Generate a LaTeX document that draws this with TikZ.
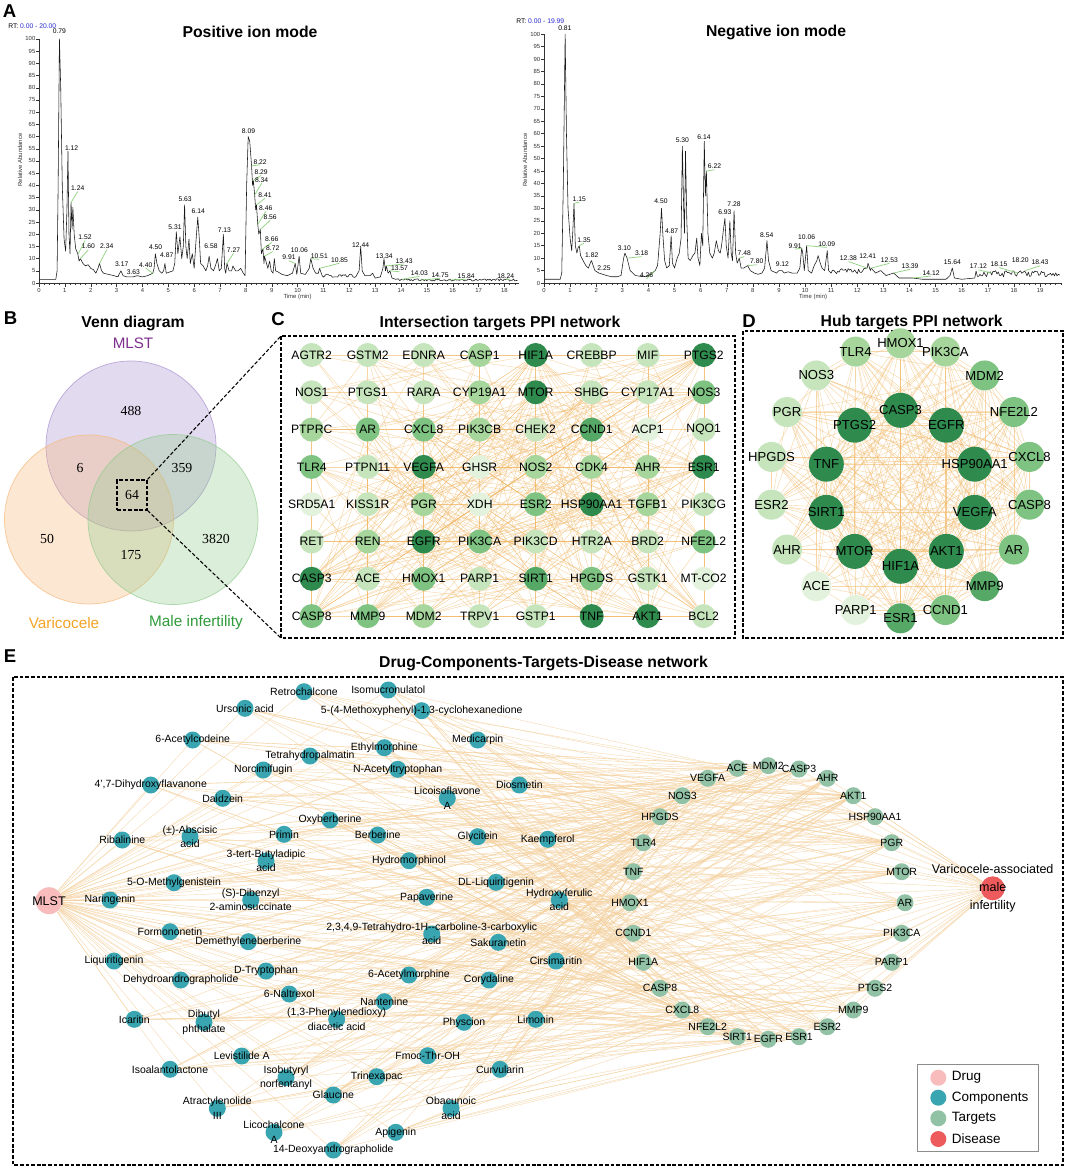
\documentclass[tikz,border=0pt]{standalone}
\usepackage{fontspec}
\setmainfont{Liberation Sans}
\newfontfamily\vennfont{Liberation Serif}
\usetikzlibrary{positioning}

\definecolor{cg0}{HTML}{E3F2DD}
\definecolor{cg1}{HTML}{C6E5BC}
\definecolor{cg2}{HTML}{A6D69C}
\definecolor{cg3}{HTML}{7EC381}
\definecolor{cg4}{HTML}{55A866}
\definecolor{cg5}{HTML}{2F8A4D}
\definecolor{ppiorange}{HTML}{F2BC6E}
\definecolor{netorange}{HTML}{F5D2A0}
\definecolor{compc}{HTML}{39A5B0}
\definecolor{targc}{HTML}{92C2A6}
\definecolor{drugc}{HTML}{F9BCBC}
\definecolor{disc}{HTML}{EE5B5D}
\definecolor{vpur}{HTML}{A68DCF}
\definecolor{vora}{HTML}{F8B676}
\definecolor{vgre}{HTML}{8FCB8B}
\definecolor{tpur}{HTML}{7E2F8E}
\definecolor{tora}{HTML}{F4A427}
\definecolor{tgre}{HTML}{2E9B3A}
\definecolor{pkgreen}{HTML}{8ED27D}
\definecolor{rtblue}{HTML}{2A2ACF}

\newcommand\fsz[2]{\fontsize{#1}{#2}\selectfont}
\newcommand\peaklbl[3]{\node[pklbl] at (#1,#2) {#3};}
\newcommand\peakglbl[5]{\draw[pkline] (#1,#2) -- (#3,#4-1.3); \node[pklbl] at (#3,#4) {#5};}

\pgfdeclarelayer{bg}
\pgfdeclarelayer{edges}
\pgfdeclarelayer{labels}
\pgfsetlayers{bg,edges,main,labels}

\begin{document}
\begin{tikzpicture}[x=0.025cm,y=-0.025cm,
  panel/.style={font=\fsz{13.2}{14}\bfseries,inner sep=0pt},
  ptitle/.style={font=\fsz{11.2}{13}\bfseries,inner sep=0pt},
  boxline/.style={dash pattern=on 2.6pt off 1.4pt,line width=0.75pt},
  trace/.style={line width=0.4pt,black!90,line join=round},
  axisline/.style={line width=0.3pt,black!80},
  ticklbl/.style={font=\fsz{4.2}{5},inner sep=0.6pt,black!80},
  pklbl/.style={font=\fsz{4.8}{5},inner sep=0pt},
  pkline/.style={pkgreen,line width=0.5pt},
  vnum/.style={font=\vennfont\fsz{9.8}{11}},
  cnode/.style={circle,minimum size=0.6cm,inner sep=0pt},
  clbl/.style={font=\fsz{8.65}{9},inner sep=0pt},
  dnode/.style={circle,minimum size=0.75cm,inner sep=0pt},
  hubnode/.style={circle,minimum size=0.875cm,inner sep=0pt,fill=cg5},
  dlbl/.style={font=\fsz{9.3}{10},inner sep=0pt},
  cedge/.style={ppiorange,line width=0.3pt,opacity=0.6},
  compnode/.style={circle,minimum size=0.425cm,inner sep=0pt,fill=compc},
  targnode/.style={circle,minimum size=0.425cm,inner sep=0pt,fill=targc},
  elbl/.style={font=\fsz{7.45}{10.2},inner sep=0pt,align=center},
  eedge/.style={netorange,line width=0.3pt,opacity=0.8},
  lgtxt/.style={font=\fsz{9.6}{11},inner sep=0pt,anchor=west},
]
\useasboundingbox (0,0) rectangle (1065,1168);
\begin{pgfonlayer}{bg}
  \fill[white] (0,0) rectangle (1065,1168);
\end{pgfonlayer}
\pgfmathsetseed{7}

\node[panel] (pA) at (9.5,11.5) {A};
\node[ptitle] (tpos) at (250,32) {Positive ion mode};
\node[ptitle] (tneg) at (776,32) {Negative ion mode};
\node[pklbl,anchor=west] (rtpos) at (8,26) {RT: \textcolor{rtblue}{0.00 - 20.00}};
\node[pklbl,anchor=west] (rtneg) at (516,21) {RT: \textcolor{rtblue}{0.00 - 19.99}};
\node[ticklbl,rotate=90] (yapos) at (20,160) {Relative Abundance};
\node[ticklbl,rotate=90] (yaneg) at (525,160) {Relative Abundance};
\node[ticklbl] (xapos) at (297.5,297) {Time (min)};
\node[ticklbl] (xaneg) at (813,297) {Time (min)};

\begin{scope}[shift={(39,283)},x=0.6463cm,y=0.061cm]
  \draw[axisline] (0,100) -- (0,0) -- (18.55,0);
  \foreach \pv in {0,5,...,100} {
    \draw[axisline] (0,\pv) -- (-0.1,\pv);
    \node[ticklbl,anchor=east] at (-0.1,\pv) {\pv};
  }
  \foreach \tm in {0,...,18} {
    \draw[axisline] (\tm,0) -- (\tm,-1.5);
    \node[ticklbl,anchor=north] at (\tm,-1.6) {\tm};
  }
  \foreach \tm in {0.2,0.4,...,18.4} \draw[axisline] (\tm,0) -- (\tm,-0.8);
  \draw[trace] (0,1.5) -- (0.65,1.5) -- (0.7,5) -- (0.74,40) -- (0.79,100) -- (0.84,80) -- (0.9,40) -- (0.97,18) -- (1.03,13) -- (1.08,30) -- (1.12,54) -- (1.16,20) -- (1.2,12) -- (1.24,33) -- (1.28,22) -- (1.31,31) -- (1.36,20) -- (1.42,14) -- (1.5,12) -- (1.55,9) -- (1.6,10) -- (1.7,8) -- (1.8,7) -- (1.9,7.5) -- (2.0,6) -- (2.1,5.5) -- (2.2,4) -- (2.28,6) -- (2.34,8) -- (2.42,5) -- (2.5,4) -- (2.7,3.5) -- (2.9,3) -- (3.05,2.5) -- (3.12,4) -- (3.17,5) -- (3.25,3) -- (3.4,2.5) -- (3.63,2.5) -- (3.8,3) -- (4.0,2.5) -- (4.2,3) -- (4.4,4) -- (4.45,6) -- (4.5,12) -- (4.56,8) -- (4.65,5) -- (4.75,4) -- (4.82,5) -- (4.87,8) -- (4.92,4) -- (5.05,4.5) -- (5.18,5) -- (5.25,8) -- (5.31,21) -- (5.37,12) -- (5.45,19) -- (5.52,10) -- (5.58,15) -- (5.63,32) -- (5.68,15) -- (5.73,10) -- (5.8,18) -- (5.85,8) -- (5.93,12) -- (6.0,6) -- (6.07,17) -- (6.14,27) -- (6.2,18) -- (6.25,8) -- (6.35,7) -- (6.45,5) -- (6.52,7) -- (6.58,11) -- (6.65,6) -- (6.75,5) -- (6.85,8) -- (6.9,10) -- (6.97,5) -- (7.05,6) -- (7.13,20) -- (7.18,6) -- (7.22,4) -- (7.27,8) -- (7.35,5) -- (7.45,5) -- (7.5,7) -- (7.6,5) -- (7.7,5) -- (7.8,6) -- (7.9,4) -- (7.97,3) -- (8.03,40) -- (8.09,60) -- (8.15,58) -- (8.22,48) -- (8.26,40) -- (8.29,42) -- (8.34,36) -- (8.38,30) -- (8.41,32) -- (8.46,24) -- (8.5,20) -- (8.56,22) -- (8.6,12) -- (8.66,14) -- (8.7,8) -- (8.72,11) -- (8.8,8) -- (8.85,6) -- (8.92,9) -- (8.98,5) -- (9.05,4) -- (9.1,10) -- (9.15,5) -- (9.25,4.5) -- (9.4,3.5) -- (9.6,3) -- (9.8,4) -- (9.91,8) -- (9.97,3.5) -- (10.06,11) -- (10.12,4) -- (10.3,3.5) -- (10.45,6) -- (10.51,10) -- (10.6,6) -- (10.7,4) -- (10.8,4) -- (10.85,6) -- (10.95,3)
    \foreach \tm in {11.0,11.05,...,12.3} { -- (\tm,{2.2+1.5*rnd}) }
    -- (12.38,5) -- (12.44,15) -- (12.5,5) -- (12.6,3) -- (12.8,3) -- (12.9,4) -- (13.0,2) -- (13.2,2.5) -- (13.3,6) -- (13.34,10) -- (13.4,5) -- (13.43,7) -- (13.5,4) -- (13.57,5) -- (13.65,2) -- (13.8,1.5)
    \foreach \tm in {13.85,13.9,...,18.5} { -- (\tm,{0.8+0.9*rnd}) };
  \peaklbl{0.79}{103}{0.79}
  \peaklbl{1.26}{55.2}{1.12}
  \peakglbl{1.24}{33}{1.5}{38.8}{1.24}
  \peakglbl{1.52}{12}{1.78}{18.7}{1.52}
  \peakglbl{1.6}{10}{1.91}{14.9}{1.60}
  \peakglbl{2.34}{8}{2.62}{14.9}{2.34}
  \peaklbl{3.2}{7.8}{3.17}
  \peaklbl{3.65}{4.6}{3.63}
  \peakglbl{4.4}{4}{4.13}{7.4}{4.40}
  \peaklbl{4.51}{14.5}{4.50}
  \peaklbl{4.94}{11.5}{4.87}
  \peaklbl{5.26}{22.7}{5.31}
  \peaklbl{5.65}{34.3}{5.63}
  \peaklbl{6.16}{29.6}{6.14}
  \peaklbl{6.65}{14.9}{6.58}
  \peaklbl{7.17}{21.7}{7.13}
  \peakglbl{7.27}{8}{7.52}{13.5}{7.27}
  \peaklbl{8.1}{62.3}{8.09}
  \peakglbl{8.22}{48}{8.55}{49.7}{8.22}
  \peakglbl{8.29}{42}{8.59}{45.4}{8.29}
  \peakglbl{8.34}{36}{8.61}{42.2}{8.34}
  \peakglbl{8.41}{32}{8.74}{36}{8.41}
  \peakglbl{8.46}{24}{8.77}{30.6}{8.46}
  \peakglbl{8.56}{22}{8.94}{27}{8.56}
  \peakglbl{8.66}{14}{9.0}{17.9}{8.66}
  \peakglbl{8.72}{11}{9.04}{14.2}{8.72}
  \peakglbl{9.91}{8}{9.67}{10.4}{9.91}
  \peaklbl{10.07}{13.5}{10.06}
  \peakglbl{10.51}{10}{10.84}{11}{10.51}
  \peakglbl{10.85}{6}{11.62}{9.4}{10.85}
  \peaklbl{12.44}{15.6}{12.44}
  \peaklbl{13.35}{10.8}{13.34}
  \peakglbl{13.43}{7}{14.12}{9.1}{13.43}
  \peakglbl{13.57}{5}{13.94}{5.9}{13.57}
  \peakglbl{14.03}{1.5}{14.71}{4}{14.03}
  \peakglbl{14.75}{1.2}{15.51}{3.2}{14.75}
  \peakglbl{15.84}{1.2}{16.52}{2.9}{15.84}
  \peakglbl{18.24}{1.2}{18.05}{2.9}{18.24}
\end{scope}

\begin{scope}[shift={(544,283)},x=0.6525cm,y=0.0622cm]
  \draw[axisline] (0,100) -- (0,0) -- (19.85,0);
  \foreach \pv in {0,5,...,100} {
    \draw[axisline] (0,\pv) -- (-0.1,\pv);
    \node[ticklbl,anchor=east] at (-0.1,\pv) {\pv};
  }
  \foreach \tm in {0,...,19} {
    \draw[axisline] (\tm,0) -- (\tm,-1.5);
    \node[ticklbl,anchor=north] at (\tm,-1.6) {\tm};
  }
  \foreach \tm in {0.2,0.4,...,19.8} \draw[axisline] (\tm,0) -- (\tm,-0.8);
  \draw[trace] (0,1.5) -- (0.62,1.5) -- (0.68,4) -- (0.74,40) -- (0.81,100) -- (0.86,60) -- (0.92,30) -- (1.0,18) -- (1.06,13) -- (1.1,20) -- (1.15,32) -- (1.2,15) -- (1.26,12) -- (1.3,14) -- (1.35,15) -- (1.4,11) -- (1.5,9) -- (1.6,7) -- (1.7,6) -- (1.77,8) -- (1.82,9) -- (1.88,7) -- (1.95,5) -- (2.1,4) -- (2.25,3.5) -- (2.4,3) -- (2.6,2.5) -- (2.8,2.5) -- (2.95,3) -- (3.05,10) -- (3.1,12) -- (3.18,10) -- (3.3,5) -- (3.5,3) -- (3.8,2.5) -- (4.0,3) -- (4.15,4) -- (4.26,5) -- (4.35,7) -- (4.45,20) -- (4.5,30) -- (4.55,20) -- (4.62,9) -- (4.7,6) -- (4.8,7) -- (4.87,19) -- (4.92,8) -- (5.0,6) -- (5.1,10) -- (5.18,12) -- (5.25,18) -- (5.3,55) -- (5.35,30) -- (5.38,20) -- (5.42,53) -- (5.47,25) -- (5.52,10) -- (5.6,9) -- (5.7,11) -- (5.78,12) -- (5.85,18) -- (5.9,10) -- (5.97,7) -- (6.03,20) -- (6.08,15) -- (6.14,57) -- (6.18,35) -- (6.22,45) -- (6.28,20) -- (6.35,12) -- (6.45,10) -- (6.52,12) -- (6.6,17) -- (6.68,13) -- (6.75,12) -- (6.8,15) -- (6.88,22) -- (6.93,26) -- (6.98,15) -- (7.05,10) -- (7.12,25) -- (7.17,12) -- (7.22,9) -- (7.28,29) -- (7.34,12) -- (7.4,8) -- (7.48,10) -- (7.55,6) -- (7.65,6) -- (7.8,7) -- (7.9,5) -- (8.05,4) -- (8.2,3.5) -- (8.35,4) -- (8.45,6) -- (8.54,17) -- (8.6,9) -- (8.7,5) -- (8.9,4) -- (9.0,5) -- (9.12,5) -- (9.2,4) -- (9.35,4.5) -- (9.5,4) -- (9.7,4) -- (9.8,6) -- (9.87,14) -- (9.91,12) -- (9.97,5) -- (10.06,15) -- (10.12,5) -- (10.25,4) -- (10.35,7) -- (10.45,9) -- (10.5,11) -- (10.58,8) -- (10.65,6) -- (10.75,5) -- (10.85,13) -- (10.9,5) -- (11.0,4)
    \foreach \tm in {11.05,11.1,...,12.3} { -- (\tm,{3.5+2.5*rnd}) }
    -- (12.38,6) -- (12.41,8) -- (12.5,5) -- (12.53,6) -- (12.7,4) -- (12.9,5) -- (13.1,3) -- (13.39,4) -- (13.6,2) -- (14.12,2) -- (14.5,1.5) -- (15.4,1.5) -- (15.55,3) -- (15.64,6) -- (15.72,2) -- (16.0,1.5) -- (16.5,2)
    \foreach \tm in {16.55,16.6,...,19.8} { -- (\tm,{2.5+2.5*rnd}) };
  \peaklbl{0.8}{102.5}{0.81}
  \peakglbl{1.15}{32}{1.35}{33.8}{1.15}
  \peakglbl{1.35}{15}{1.53}{17.3}{1.35}
  \peaklbl{1.83}{11.3}{1.82}
  \peaklbl{2.3}{5.9}{2.25}
  \peaklbl{3.08}{14}{3.10}
  \peakglbl{3.18}{10}{3.74}{11.9}{3.18}
  \peakglbl{4.26}{5}{3.93}{3}{4.26}
  \peaklbl{4.48}{32.7}{4.50}
  \peaklbl{4.89}{21}{4.87}
  \peaklbl{5.3}{57.5}{5.30}
  \peaklbl{6.13}{58.8}{6.14}
  \peakglbl{6.22}{45}{6.53}{46.8}{6.22}
  \peaklbl{6.93}{28.4}{6.93}
  \peaklbl{7.28}{31.8}{7.28}
  \peakglbl{7.48}{10}{7.67}{11.9}{7.48}
  \peakglbl{7.8}{7}{8.15}{8.6}{7.80}
  \peaklbl{8.53}{19.3}{8.54}
  \peaklbl{9.13}{7.6}{9.12}
  \peakglbl{9.87}{14}{9.62}{14.9}{9.91}
  \peaklbl{10.06}{18.4}{10.06}
  \peakglbl{10.06}{15}{10.83}{15.6}{10.09}
  \peakglbl{12.38}{6}{11.66}{9.9}{12.38}
  \peaklbl{12.4}{10.9}{12.41}
  \peakglbl{12.53}{6}{13.23}{9.2}{12.53}
  \peakglbl{13.39}{4}{14.02}{6.8}{13.39}
  \peakglbl{14.12}{2}{14.83}{4.1}{14.12}
  \peaklbl{15.64}{8.3}{15.64}
  \peakglbl{17.12}{4}{16.64}{6.6}{17.12}
  \peakglbl{18.15}{4}{17.43}{7.5}{18.15}
  \peaklbl{18.24}{9}{18.20}
  \peakglbl{18.43}{5}{19.0}{8.2}{18.43}
\end{scope}

\node[panel] (pB) at (10.5,318.5) {B};
\node[ptitle] (tvenn) at (133,323) {Venn diagram};
\node[font=\fsz{10.8}{12},text=tpur] (lmlst) at (133,343) {MLST};
\filldraw[fill=vpur,fill opacity=.32,draw=vpur,draw opacity=.7,line width=0.5pt] (131,446) circle (85);
\filldraw[fill=vora,fill opacity=.32,draw=vora,draw opacity=.7,line width=0.5pt] (89,519.5) circle (84.5);
\filldraw[fill=vgre,fill opacity=.32,draw=vgre,draw opacity=.7,line width=0.5pt] (173,519.5) circle (85);
\node[vnum] (n488) at (131,411) {488};
\node[vnum] (n6) at (80,468) {6};
\node[vnum] (n359) at (182,468) {359};
\node[vnum] (n50) at (47,539) {50};
\node[vnum] (n3820) at (216,539) {3820};
\node[vnum] (n175) at (131,555) {175};
\node[vnum,draw,boxline,minimum width=0.75cm,minimum height=0.75cm,inner sep=0pt] (sq) at (132,495) {64};
\node[font=\fsz{10.9}{12},text=tora] (lvar) at (64,623) {Varicocele};
\node[font=\fsz{10.9}{12},text=tgre] (lmale) at (196,623) {Male infertility};

\node[panel] (pC) at (278,319) {C};
\node[ptitle] (tC) at (500,323) {Intersection targets PPI network};
\coordinate (cnw) at (281,336);
\coordinate (csw) at (281,638);
\coordinate (cse) at (735,638);
\draw[boxline] (cnw) rectangle (cse);
\draw[boxline] (sq.north east) -- (cnw);
\draw[boxline] (sq.south east) -- (csw);
\def\clev{{1,1,1,2,5,1,1,5, 1,1,1,2,5,1,1,3, 2,3,3,2,1,4,0,1, 3,1,5,0,2,2,2,5, 0,1,2,0,3,5,2,1, 1,2,5,3,1,1,1,3, 5,1,3,1,4,3,1,0, 3,3,2,1,1,5,5,1}}
\foreach \nm [count=\i from 0] in {AGTR2,GSTM2,EDNRA,CASP1,HIF1A,CREBBP,MIF,PTGS2,NOS1,PTGS1,RARA,CYP19A1,MTOR,SHBG,CYP17A1,NOS3,PTPRC,AR,CXCL8,PIK3CB,CHEK2,CCND1,ACP1,NQO1,TLR4,PTPN11,VEGFA,GHSR,NOS2,CDK4,AHR,ESR1,SRD5A1,KISS1R,PGR,XDH,ESR2,HSP90AA1,TGFB1,PIK3CG,RET,REN,EGFR,PIK3CA,PIK3CD,HTR2A,BRD2,NFE2L2,CASP3,ACE,HMOX1,PARP1,SIRT1,HPGDS,GSTK1,MT-CO2,CASP8,MMP9,MDM2,TRPV1,GSTP1,TNF,AKT1,BCL2} {
  \pgfmathtruncatemacro\col{mod(\i,8)}
  \pgfmathtruncatemacro\row{div(\i,8)}
  \pgfmathtruncatemacro\lv{\clev[\i]}
  \node[cnode,fill=cg\lv] (c\i) at ({311.7+56*\col},{355+37.3*\row}) {};
  \begin{pgfonlayer}{labels}
    \node[clbl] at (c\i) {\nm};
  \end{pgfonlayer}
}
\begin{pgfonlayer}{edges}
  \foreach \i in {0,...,62} {
    \pgfmathtruncatemacro\jn{\i+1}
    \foreach \j in {\jn,...,63} {
      \pgfmathtruncatemacro\hit{rnd<(\clev[\i]+1)*(\clev[\j]+1)/55 ? 1 : 0}
      \ifnum\hit=1 \draw[cedge] (c\i) -- (c\j); \fi
    }
  }
\end{pgfonlayer}

\node[panel] (pD) at (749,321) {D};
\node[ptitle] (tD) at (911.7,322) {Hub targets PPI network};
\draw[boxline] (743,331) rectangle (1063,638);
\def\dlev{{2,2,1,1,1,1,1,0,0,4,3,4,3,3,3,3,3,2,5,5,5,5,5,5,5,5,5,5}}
\foreach \nm/\ang [count=\i from 0] in {HMOX1/90,TLR4/110,NOS3/130,PGR/150,HPGDS/170,ESR2/190,AHR/210,ACE/230,PARP1/250,ESR1/270,CCND1/290,MMP9/310,AR/330,CASP8/350,CXCL8/10,NFE2L2/30,MDM2/50,PIK3CA/70} {
  \pgfmathtruncatemacro\lv{\dlev[\i]}
  \node[dnode,fill=cg\lv] (d\i) at ({900.5+131*cos(\ang)},{480.8-137.5*sin(\ang)}) {};
  \begin{pgfonlayer}{labels}
    \node[dlbl] at (d\i) {\nm};
  \end{pgfonlayer}
}
\foreach \nm/\ang [count=\i from 18] in {CASP3/90,EGFR/54,HSP90AA1/18,VEGFA/-18,AKT1/-54,HIF1A/-90,MTOR/-126,SIRT1/-162,TNF/162,PTGS2/126} {
  \node[hubnode] (d\i) at ({900.5+78*cos(\ang)},{488.3-78*sin(\ang)}) {};
  \begin{pgfonlayer}{labels}
    \node[dlbl] at (d\i) {\nm};
  \end{pgfonlayer}
}
\begin{pgfonlayer}{edges}
  \foreach \i in {0,...,26} {
    \pgfmathtruncatemacro\jn{\i+1}
    \foreach \j in {\jn,...,27} {
      \pgfmathtruncatemacro\hit{rnd<(\dlev[\i]+3.5)*(\dlev[\j]+3.5)/50 ? 1 : 0}
      \ifnum\hit=1 \draw[cedge] (d\i) -- (d\j); \fi
    }
  }
\end{pgfonlayer}

\node[panel] (pE) at (10,656) {E};
\node[ptitle] (tE) at (543.5,663) {Drug-Components-Targets-Disease network};
\draw[boxline] (13,677) rectangle (1063,1165);
\node[circle,minimum size=0.675cm,inner sep=0pt,fill=drugc] (mlst) at (49,900.7) {};
\node[circle,minimum size=0.6cm,inner sep=0pt,fill=disc] (dis) at (992.7,888.3) {};
\begin{pgfonlayer}{labels}
  \node[font=\fsz{8.9}{10},inner sep=0pt] at (mlst) {MLST};
  \node[font=\fsz{8.9}{12.5},inner sep=0pt,align=center] at (dis) {Varicocele-associated\\male\\infertility};
\end{pgfonlayer}
\foreach \ex/\ey/\etxt [count=\i] in {304/691.7/Retrochalcone, 245/708.3/Ursonic acid, 192.7/740/6-Acetylcodeine, 310/756/Tetrahydropalmatin, 263.3/770/Norcimifugin, 150.7/785/{4',7-Dihydroxyflavanone}, 222.7/798.3/Daidzein, 330/820/Oxyberberine, 122.3/840/Ribalinine, 190/836.7/(±)-Abscisic\\acid, 284/834.3/Primin, 266/861/3-tert-Butyladipic\\acid, 174/882.7/5-O-Methylgenistein, 250.7/900/(S)-Dibenzyl\\2-aminosuccinate, 110/900/Naringenin, 170/931.7/Formononetin, 248.3/941.7/Demethyleneberberine, 114/961/Liquiritigenin, 266/971/D-Tryptophan, 180.7/980/Dehydroandrographolide, 289.3/994/6-Naltrexol, 134.3/1019.3/Icaritin, 204/1022.3/Dibutyl\\phthalate, 336.7/1019.3/{(1,3-Phenylenedioxy)\\diacetic acid}, 241.7/1056/Levistilide A, 170/1069.3/Isoalantolactone, 286/1077.7/Isobutyryl\\norfentanyl, 333.3/1095/Glaucine, 217.3/1108.3/Atractylenolide\\III, 274/1132.3/Licochalcone\\A, 333.3/1150/14-Deoxyandrographolide, 388.3/690/Isomucronulatol, 421.7/710.7/{5-(4-Methoxyphenyl)-1,3-cyclohexanedione}, 477.7/740/Medicarpin, 384.3/747.7/Ethylmorphine, 397.7/769.3/N-Acetyltryptophan, 447.3/798.3/Licoisoflavone\\A, 519.3/785/Diosmetin, 377.7/835/Berberine, 477.7/836.7/Glycitein, 547.7/839.3/Kaempferol, 409/860.7/Hydromorphinol, 496/882.3/DL-Liquiritigenin, 426.7/897.3/Papaverine, 559.3/900/Hydroxyferulic\\acid, 431.7/934/{2,3,4,9-Tetrahydro-1H-{}-carboline-3-carboxylic\\acid}, 498.3/942.3/Sakuranetin, 556/961/Cirsimaritin, 409/975/6-Acetylmorphine, 489/980/Corydaline, 384.3/1001.7/Nantenine, 464/1022.3/Physcion, 535.7/1019.3/Limonin, 427.7/1055.7/Fmoc-Thr-OH, 500/1069.3/Curvularin, 376.7/1076.7/Trinexapac, 451/1108.3/Obacunoic\\acid, 395.7/1132.3/Apigenin} {
  \node[compnode] (ec\i) at (\ex,\ey) {};
  \begin{pgfonlayer}{labels}
    \node[elbl] at (ec\i) {\etxt};
  \end{pgfonlayer}
}
\foreach \nm/\ex/\ey [count=\i] in {VEGFA/707.7/778.3, ACE/737.3/768.3, MDM2/768.3/765.7, CASP3/799/769, AHR/827.3/778.3, AKT1/853.3/795.7, HSP90AA1/875/816.7, PGR/891.7/842.7, MTOR/901.7/871.7, AR/905/902.7, PIK3CA/901.7/933.3, PARP1/891.7/962.3, PTGS2/875/988.3, MMP9/853.3/1010, ESR2/827.3/1026.7, ESR1/799/1036.7, EGFR/768.3/1039.3, SIRT1/737.3/1036.7, NFE2L2/707.7/1026.7, CXCL8/682.3/1010, CASP8/660/988.3, HIF1A/643.3/962.3, CCND1/633.3/933.3, HMOX1/630/902.7, TNF/633.3/871.7, TLR4/643.3/842.7, HPGDS/660/816.7, NOS3/682.3/795.7} {
  \node[targnode] (et\i) at (\ex,\ey) {};
  \begin{pgfonlayer}{labels}
    \node[elbl] at (et\i) {\nm};
  \end{pgfonlayer}
}
\begin{pgfonlayer}{edges}
  \foreach \i in {1,...,58} {
    \draw[eedge] (mlst) -- (ec\i);
    \foreach \k in {1,...,7} {
      \pgfmathtruncatemacro\j{random(1,28)}
      \draw[eedge] (ec\i) -- (et\j);
    }
  }
  \foreach \j in {1,...,28} \draw[eedge] (et\j) -- (dis);
\end{pgfonlayer}

\draw[black!45,line width=0.6pt] (917,1064) rectangle (1038,1151);
\node[circle,minimum size=0.4cm,inner sep=0pt,fill=drugc] (lg1) at (938.3,1077.7) {};
\node[circle,minimum size=0.4cm,inner sep=0pt,fill=compc] (lg2) at (938.3,1097.7) {};
\node[circle,minimum size=0.4cm,inner sep=0pt,fill=targc] (lg3) at (938.3,1118.3) {};
\node[circle,minimum size=0.4cm,inner sep=0pt,fill=disc] (lg4) at (938.3,1139) {};
\node[lgtxt,right=3.5pt of lg1] {Drug};
\node[lgtxt,right=3.5pt of lg2] {Components};
\node[lgtxt,right=3.5pt of lg3] {Targets};
\node[lgtxt,right=3.5pt of lg4] {Disease};
\end{tikzpicture}
\end{document}
